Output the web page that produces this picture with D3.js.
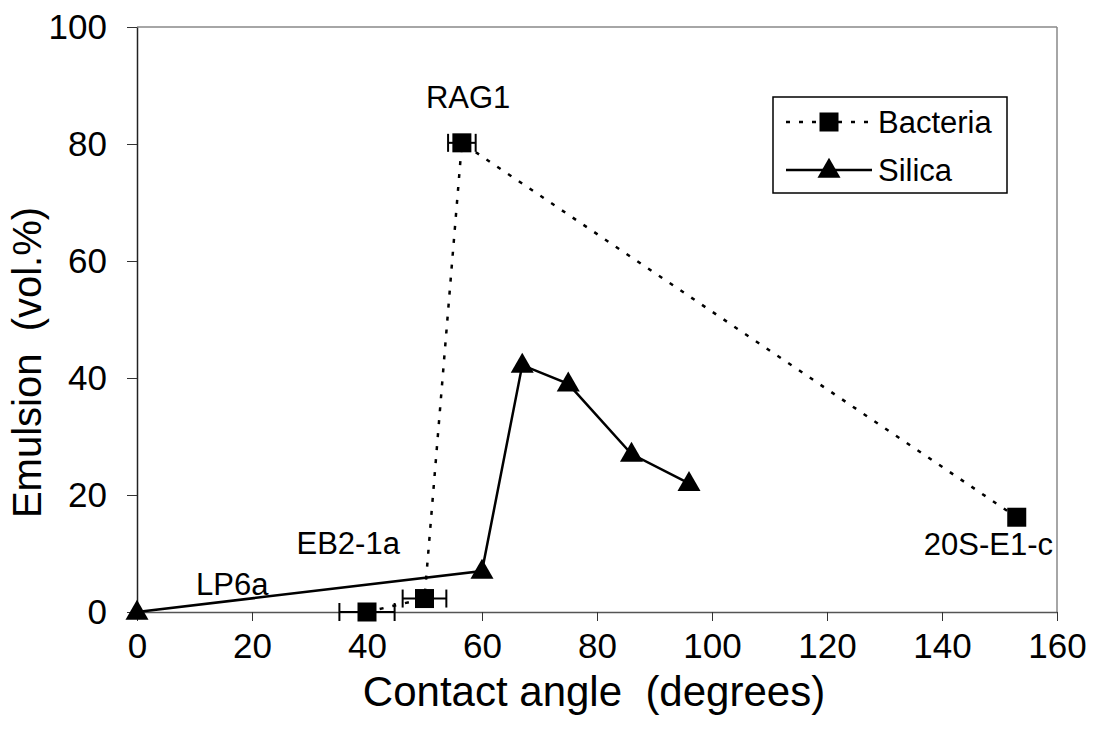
<!DOCTYPE html>
<meta charset="utf-8">
<script src="https://d3js.org/d3.v7.min.js"></script>
<style>
  body { margin: 0; background: #fff; }
  text { font-family: "Liberation Sans", Arial, sans-serif; fill: #000; white-space: pre; }
</style>
<div id="my_dataviz"></div>
<script>
  // data
  var bacteriaAngle = [40, 50, 56.5, 153];
  var bacteriaEmulsion = [0, 2.3, 80.2, 16.2];
  var bacteriaErr = [4.8, 3.8, 2.4, 0];
  var bacteriaNames = ["", "EB2-1a", "RAG1", "20S-E1-c"];

  var silicaAngle = [0, 60, 67, 75, 86, 96];
  var silicaEmulsion = [0, 7, 42.2, 39, 27, 22];

  var xTicks = [0, 20, 40, 60, 80, 100, 120, 140, 160];
  var yTicks = [0, 20, 40, 60, 80, 100];

  // set the dimensions and margins of the graph
  var margin = {top: 27, right: 38, bottom: 123, left: 137},
      width = 1095 - margin.left - margin.right,
      height = 735 - margin.top - margin.bottom;

  var svg = d3.select("#my_dataviz")
    .append("svg")
      .attr("width", 1095)
      .attr("height", 735)
    .append("g")
      .attr("transform", "translate(" + margin.left + "," + margin.top + ")");

  var x = d3.scaleLinear().domain([0, 160]).range([0, width]);
  var y = d3.scaleLinear().domain([0, 100]).range([height, 0]);

  // frame (top and right in grey)
  svg.append("line").attr("x1", 0).attr("x2", width).attr("y1", 0).attr("y2", 0)
    .attr("stroke", "#888").attr("stroke-width", 1.5);
  svg.append("line").attr("x1", width).attr("x2", width).attr("y1", 0).attr("y2", height)
    .attr("stroke", "#888").attr("stroke-width", 1.5);

  // X axis
  var xAxis = svg.append("g")
    .attr("transform", "translate(0," + height + ")")
    .call(d3.axisBottom(x).tickValues(xTicks).tickSize(9).tickPadding(12).tickSizeOuter(0));
  xAxis.select(".domain").attr("stroke", "#555").attr("stroke-width", 1.5);
  xAxis.selectAll("line").attr("stroke", "#333");
  xAxis.selectAll("text").style("font-size", "35px");

  // Y axis
  var yAxis = svg.append("g")
    .call(d3.axisLeft(y).tickValues(yTicks).tickSize(10).tickPadding(20).tickSizeOuter(0));
  yAxis.select(".domain").attr("stroke", "#222").attr("stroke-width", 1.5);
  yAxis.selectAll("line").attr("stroke", "#333");
  yAxis.selectAll("text").style("font-size", "35px");

  // axis titles
  svg.append("text")
    .attr("x", width / 2 - 3)
    .attr("y", height + 94)
    .attr("text-anchor", "middle")
    .style("font-size", "42px")
    .text("Contact angle  (degrees)");
  svg.append("text")
    .attr("transform", "translate(" + (-96) + "," + (height / 2 + 43) + ")rotate(-90)")
    .attr("text-anchor", "middle")
    .style("font-size", "40px")
    .text("Emulsion  (vol.%)");

  var bacteria = bacteriaAngle.map(function(d, i) {
    return {x: d, y: bacteriaEmulsion[i], e: bacteriaErr[i], name: bacteriaNames[i]};
  });
  var silica = silicaAngle.map(function(d, i) { return {x: d, y: silicaEmulsion[i]}; });

  var line = d3.line()
    .x(function(d) { return x(d.x); })
    .y(function(d) { return y(d.y); });

  // Silica line
  svg.append("path")
    .datum(silica)
    .attr("fill", "none")
    .attr("stroke", "#000")
    .attr("stroke-width", 2.5)
    .attr("d", line);

  // Bacteria dotted line
  svg.append("path")
    .datum(bacteria)
    .attr("fill", "none")
    .attr("stroke", "#000")
    .attr("stroke-width", 2.5)
    .attr("stroke-dasharray", "4,9")
    .attr("d", line);

  // error bars
  var eb = svg.selectAll("g.err")
    .data(bacteria.filter(function(d) { return d.e > 0; }))
    .enter().append("g").attr("class", "err");
  eb.append("line")
    .attr("x1", function(d) { return x(d.x - d.e); })
    .attr("x2", function(d) { return x(d.x + d.e); })
    .attr("y1", function(d) { return y(d.y); })
    .attr("y2", function(d) { return y(d.y); })
    .attr("stroke", "#000").attr("stroke-width", 2);
  [-1, 1].forEach(function(s) {
    eb.append("line")
      .attr("x1", function(d) { return x(d.x + s * d.e); })
      .attr("x2", function(d) { return x(d.x + s * d.e); })
      .attr("y1", function(d) { return y(d.y) - 9; })
      .attr("y2", function(d) { return y(d.y) + 9; })
      .attr("stroke", "#000").attr("stroke-width", 2);
  });

  // Bacteria squares
  var sq = 19;
  svg.selectAll("rect.bact")
    .data(bacteria)
    .enter().append("rect")
      .attr("class", "bact")
      .attr("x", function(d) { return x(d.x) - sq / 2; })
      .attr("y", function(d) { return y(d.y) - sq / 2; })
      .attr("width", sq)
      .attr("height", sq)
      .attr("fill", "#000");

  // Silica triangles
  var tri = d3.symbol().type(d3.symbolTriangle).size(230);
  svg.selectAll("path.sil")
    .data(silica)
    .enter().append("path")
      .attr("class", "sil")
      .attr("transform", function(d) { return "translate(" + x(d.x) + "," + (y(d.y) + 1) + ")"; })
      .attr("d", tri)
      .attr("fill", "#000");

  // point labels
  var labels = [
    {t: "RAG1", x: 56.5, y: 80.2, dx: -36, dy: -35},
    {t: "EB2-1a", x: 50, y: 2.3, dx: -128, dy: -45},
    {t: "20S-E1-c", x: 153, y: 16.2, dx: -93, dy: 38},
    {t: "LP6a", x: 0, y: 0, dx: 59, dy: -17}
  ];
  svg.selectAll("text.lbl")
    .data(labels)
    .enter().append("text")
      .attr("class", "lbl")
      .attr("x", function(d) { return x(d.x) + d.dx; })
      .attr("y", function(d) { return y(d.y) + d.dy; })
      .style("font-size", "31px")
      .text(function(d) { return d.t; });

  // legend
  var lg = svg.append("g").attr("transform", "translate(" + (773 - margin.left) + "," + (97 - margin.top) + ")");
  lg.append("rect").attr("width", 234).attr("height", 96)
    .attr("fill", "#fff").attr("stroke", "#000").attr("stroke-width", 1.5);
  lg.append("line").attr("x1", 13).attr("x2", 99).attr("y1", 25).attr("y2", 25)
    .attr("stroke", "#000").attr("stroke-width", 2.5).attr("stroke-dasharray", "4,9");
  lg.append("rect").attr("x", 56 - sq / 2).attr("y", 25 - sq / 2).attr("width", sq).attr("height", sq).attr("fill", "#000");
  lg.append("text").attr("x", 105).attr("y", 36).style("font-size", "31px").text("Bacteria");
  lg.append("line").attr("x1", 13).attr("x2", 99).attr("y1", 73).attr("y2", 73)
    .attr("stroke", "#000").attr("stroke-width", 2.5);
  lg.append("path").attr("transform", "translate(56,74)").attr("d", tri).attr("fill", "#000");
  lg.append("text").attr("x", 105).attr("y", 84).style("font-size", "31px").text("Silica");
</script>
